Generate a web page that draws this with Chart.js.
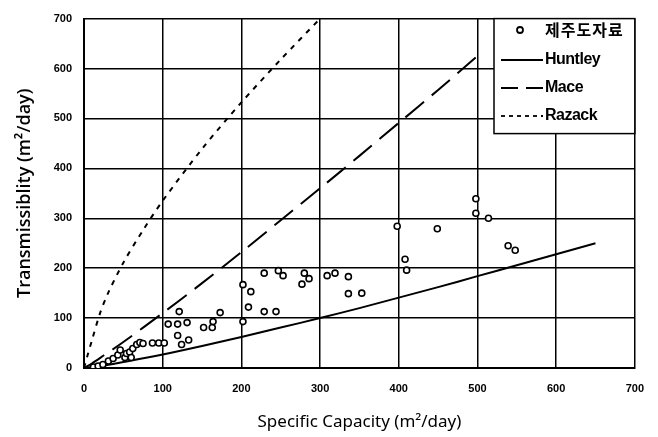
<!DOCTYPE html>
<html>
<head>
<meta charset="utf-8">
<script src="https://cdn.jsdelivr.net/npm/chart.js@4.4.1/dist/chart.umd.min.js"></script>
<style>
  html, body { margin: 0; padding: 0; background: #fff; }
</style>
</head>
<body>
<canvas id="chart" width="658" height="437"></canvas>
<script>
// observed wells (specific capacity, transmissibility)
const wellX = [12, 18, 24, 31, 37, 43, 46, 52, 54, 58, 60, 62, 67, 71, 75, 87, 95, 102,
  107, 119, 131, 121, 119, 124, 133, 152, 163, 164, 173, 202, 212, 209, 202, 229, 244,
  229, 247, 253, 280, 286, 277, 309, 319, 336, 336, 353, 398, 449, 408, 410, 498, 498,
  514, 539, 548];
const wellY = [2, 4, 7, 14, 19, 26, 36, 21, 29, 32, 21, 39, 47, 51, 49, 50, 50, 50,
  88, 88, 91, 113, 65, 47, 56, 81, 81, 93, 111, 167, 153, 122, 93, 113, 113,
  190, 195, 185, 190, 179, 168, 185, 190, 183, 149, 150, 284, 279, 218, 196, 339, 310,
  300, 245, 236];

const huntleyX = [0, 10, 25, 50, 100, 150, 200, 250, 300, 350, 400, 450, 500, 550, 600, 650];
const huntleyY = [0, 2, 5, 12, 27, 44, 62, 81, 100, 120, 141, 162, 184, 206, 228, 250];

const maceX = [0, 10, 25, 50, 100, 150, 200, 250, 300, 350, 400, 450, 500];
const maceY = [0, 9, 25, 52, 110, 170, 232, 296, 360, 425, 491, 557, 625];

const razackX = [0, 5, 10, 20, 30, 50, 75, 100, 150, 200, 250, 300];
const razackY = [0, 28, 55, 108, 148, 211, 276, 335, 439, 532, 618, 700];

const legendLabels = ['제주도자료', 'Huntley', 'Mace', 'Razack'];

function pts(xs, ys) {
  return xs.map((x, i) => ({ x: x, y: ys[i] }));
}

const tickFont = { family: "'Liberation Sans Narrow', 'Liberation Sans', Arial", size: 11, weight: 'bold' };

// legend box drawn inside the plot, top right
const boxLegend = {
  id: 'boxLegend',
  afterDraw(chart) {
    const ctx = chart.ctx;
    const a = chart.chartArea;
    const x0 = 494, y0 = a.top, w = a.right - 494, h = 115;
    ctx.save();
    ctx.fillStyle = '#fff';
    ctx.fillRect(x0, y0, w, h);
    ctx.strokeStyle = '#000';
    ctx.lineWidth = 1.5;
    ctx.strokeRect(x0, y0, w, h);

    const rows = [30, 60, 88, 116];
    const dashes = [null, [], [17, 8], [4, 4]];
    ctx.fillStyle = '#000';
    ctx.textBaseline = 'middle';
    rows.forEach((ry, i) => {
      if (i === 0) {
        ctx.beginPath();
        ctx.setLineDash([]);
        ctx.lineWidth = 1.8;
        ctx.arc(520, ry, 3, 0, Math.PI * 2);
        ctx.stroke();
        ctx.font = "bold 16px 'Noto Sans CJK KR', sans-serif";
        ctx.letterSpacing = '1px';
      } else {
        ctx.beginPath();
        ctx.setLineDash(dashes[i]);
        ctx.lineWidth = 1.8;
        ctx.moveTo(501, ry);
        ctx.lineTo(543, ry);
        ctx.stroke();
        ctx.font = "bold 16px 'Liberation Sans Narrow', 'Liberation Sans', Arial";
        ctx.letterSpacing = '-0.5px';
      }
      ctx.fillText(legendLabels[i], 545, ry);
    });
    ctx.restore();
  }
};

new Chart(document.getElementById('chart'), {
  type: 'scatter',
  data: {
    datasets: [
      {
        label: legendLabels[0],
        data: pts(wellX, wellY),
        pointRadius: 3,
        pointBorderWidth: 1.6,
        pointBorderColor: '#000',
        pointBackgroundColor: '#fff',
        order: 0
      },
      {
        label: legendLabels[1],
        type: 'line',
        data: pts(huntleyX, huntleyY),
        borderColor: '#000',
        borderWidth: 2,
        pointRadius: 0,
        tension: 0.3,
        order: 1
      },
      {
        label: legendLabels[2],
        type: 'line',
        data: pts(maceX, maceY),
        borderColor: '#000',
        borderWidth: 2,
        borderDash: [24, 10],
        pointRadius: 0,
        tension: 0.3,
        order: 1
      },
      {
        label: legendLabels[3],
        type: 'line',
        data: pts(razackX, razackY),
        borderColor: '#000',
        borderWidth: 2,
        borderDash: [5, 6],
        pointRadius: 0,
        tension: 0.3,
        order: 1
      }
    ]
  },
  options: {
    responsive: false,
    animation: false,
    devicePixelRatio: 1,
    layout: { padding: { top: 13, right: 21, left: 0, bottom: 0 } },
    plugins: {
      legend: { display: false },
      tooltip: { enabled: false }
    },
    scales: {
      x: {
        type: 'linear',
        min: 0,
        max: 700,
        ticks: { stepSize: 100, color: '#000', font: tickFont, padding: 14 },
        grid: { color: '#000', lineWidth: 1.5, drawTicks: false },
        border: { color: '#000', width: 2 },
        title: {
          display: true, text: 'Specific Capacity (m²/day)', color: '#000',
          font: { family: "'Noto Sans', 'Open Sans', sans-serif", size: 17 },
          padding: { top: 0, bottom: 5 }
        },
        afterFit(s) { s.height = 69; }
      },
      y: {
        type: 'linear',
        min: 0,
        max: 700,
        ticks: { stepSize: 100, color: '#000', font: tickFont, padding: 12 },
        grid: { color: '#000', lineWidth: 1.5, drawTicks: false },
        border: { color: '#000', width: 2 },
        title: {
          display: true, text: 'Transmissiblity (m²/day)', color: '#000',
          font: { family: "'Open Sans', 'Noto Sans', sans-serif", size: 18, weight: 600 },
          padding: { top: 14, bottom: 0 }
        },
        afterFit(s) { s.width = 84; }
      }
    }
  },
  plugins: [boxLegend]
});
</script>
</body>
</html>
